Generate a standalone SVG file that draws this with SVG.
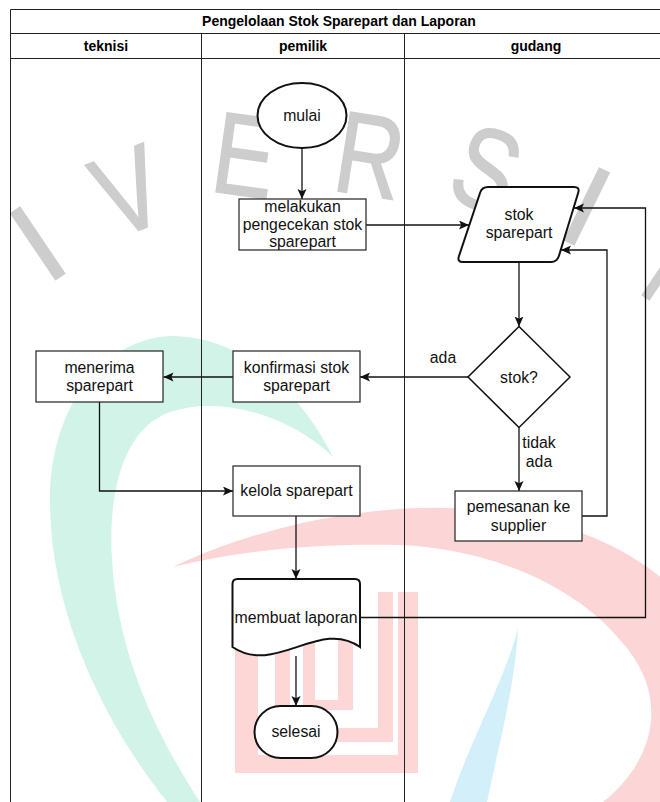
<svg xmlns="http://www.w3.org/2000/svg" width="660" height="802" viewBox="0 0 660 802">
<style>
.lane{fill:none;stroke:#222;stroke-width:1}
.hdr{font-family:"Liberation Sans",Arial,sans-serif;font-weight:bold;font-size:14px;text-anchor:middle;fill:#000}
.box{fill:#fff;stroke:#222;stroke-width:1.2}
.thick{fill:#fff;stroke:#111;stroke-width:2}
.lbl{font-family:"Liberation Sans",Arial,sans-serif;font-size:15.8px;text-anchor:middle;fill:#111}
.conn{fill:none;stroke:#111;stroke-width:1.3}
.wm{font-family:"Liberation Sans",Arial,sans-serif;font-size:116px;fill:#cdcdcd;stroke:#cdcdcd;stroke-width:1.6;text-anchor:middle}
</style>
<defs>
<marker id="arr" markerUnits="userSpaceOnUse" markerWidth="11" markerHeight="10" refX="10" refY="4.5" orient="auto">
<path d="M0,0 L10,4.5 L0,9 L2.2,4.5 Z" fill="#111"/>
</marker>
</defs>
<rect width="660" height="802" fill="#fff"/>
<g id="watermark">
<path d="M167,802 C110,730 50,620 50,500 C50,400 110,335 175,336 C240,337 300,390 333,457 C290,415 220,395 170,412 C120,430 108,500 112,560 C118,660 160,740 200,802 Z" fill="#d2f4e8"/>
<path d="M173,567 C260,525 380,500 480,510 C580,520 660,560 700,620 C740,700 720,760 690,802 L603,802 C650,765 675,700 620,640 C570,580 480,548 400,545 C320,543 240,550 173,567 Z" fill="#fcd6d6"/>
<path d="M518,628 C516,680 500,740 487,802 L450,802 C470,740 505,680 518,628 Z" fill="#d3effa"/>
<path d="M235,592 h23 v163 h140 v-163 h20 v181 h-183 Z" fill="#fdd6d6"/>
<path d="M275,600 h15 v128 h88 v-136 h15 v150 h-118 Z" fill="#fdd6d6"/>
<path d="M303,640 h12 v60 h23 v-60 h15 v70 h-50 Z" fill="#fdd6d6"/>
<g transform="translate(37,242) rotate(-34)"><text class="wm" x="0" y="41.5">I</text></g>
<g transform="translate(128,190) rotate(-21) scale(0.82,1)"><text class="wm" x="0" y="41.5">V</text></g>
<g transform="translate(245,154) rotate(8) scale(0.8,1)"><text class="wm" x="0" y="41.5">E</text></g>
<g transform="translate(370,154) rotate(9) scale(0.8,1)"><text class="wm" x="0" y="41.5">R</text></g>
<g transform="translate(487,168) rotate(20) scale(0.8,1)"><text class="wm" x="0" y="41.5">S</text></g>
<g transform="translate(587.5,205) rotate(26)"><text class="wm" x="0" y="41.5">I</text></g>
<g transform="translate(669,263) rotate(34) scale(0.8,1)"><text class="wm" x="0" y="41.5">T</text></g>
</g>
<g id="pool">
<path class="lane" d="M10.5,802 V9.5 H668 M10.5,33.5 H668 M10.5,58.5 H668 M201.5,33.5 V802 M404.5,33.5 V802"/>
<text class="hdr" x="339" y="26">Pengelolaan Stok Sparepart dan Laporan</text>
<text class="hdr" x="106" y="50.5">teknisi</text>
<text class="hdr" x="303" y="50.5">pemilik</text>
<text class="hdr" x="536" y="50.5">gudang</text>
</g>
<g id="connectors">
<path class="conn" d="M302,148 V199" marker-end="url(#arr)"/>
<path class="conn" d="M366,225 H469" marker-end="url(#arr)"/>
<path class="conn" d="M519,262 V326.5" marker-end="url(#arr)"/>
<path class="conn" d="M468,377 H360" marker-end="url(#arr)"/>
<path class="conn" d="M233,377 H163.5" marker-end="url(#arr)"/>
<path class="conn" d="M99.5,402 V491 H233" marker-end="url(#arr)"/>
<path class="conn" d="M519,427.5 V491" marker-end="url(#arr)"/>
<path class="conn" d="M582,516 H607 V250 H561" marker-end="url(#arr)"/>
<path class="conn" d="M296,516 V579" marker-end="url(#arr)"/>
<path class="conn" d="M360,617.5 H645.5 V208 H574" marker-end="url(#arr)"/>
<path class="conn" d="M296,656 V706" marker-end="url(#arr)"/>
<text class="lbl" x="443" y="362.5">ada</text>
<text class="lbl" x="539" y="448">tidak</text>
<text class="lbl" x="539" y="467">ada</text>
</g>
<g id="mulai">
<ellipse class="thick" cx="302" cy="115.5" rx="44.5" ry="32.5"/>
<text class="lbl" x="302" y="121">mulai</text>
</g>
<g id="pengecekan">
<rect class="box" x="239" y="199" width="127" height="51"/>
<text class="lbl" x="302.5" y="212">melakukan</text>
<text class="lbl" x="302.5" y="229.5">pengecekan stok</text>
<text class="lbl" x="302.5" y="247">sparepart</text>
</g>
<g id="stok-sparepart">
<path class="thick" d="M488,187 L574,187 Q580,187 578.2,192.7 L558.8,256.3 Q557,262 551,262 L463,262 Q457,262 458.9,256.3 L480.1,192.7 Q482,187 488,187 Z"/>
<text class="lbl" x="519" y="220">stok</text>
<text class="lbl" x="519" y="238">sparepart</text>
</g>
<g id="stok-decision">
<path d="M519,326.5 L570,377 L519,427.5 L468,377 Z" fill="#fff" stroke="#111" stroke-width="1.5"/>
<text class="lbl" x="519" y="382.5">stok?</text>
</g>
<g id="konfirmasi">
<rect class="box" x="233" y="351" width="127" height="51"/>
<text class="lbl" x="296.5" y="372.5">konfirmasi stok</text>
<text class="lbl" x="296.5" y="391">sparepart</text>
</g>
<g id="menerima">
<rect class="box" x="36" y="351" width="127" height="51"/>
<text class="lbl" x="99.5" y="372.5">menerima</text>
<text class="lbl" x="99.5" y="391">sparepart</text>
</g>
<g id="kelola">
<rect class="box" x="233" y="466" width="127" height="50"/>
<text class="lbl" x="296.5" y="496">kelola sparepart</text>
</g>
<g id="pemesanan">
<rect class="box" x="455" y="491" width="127" height="50"/>
<text class="lbl" x="518.5" y="511.5">pemesanan ke</text>
<text class="lbl" x="518.5" y="530.5">supplier</text>
</g>
<g id="laporan">
<path class="thick" d="M232.5,647 L232.5,584 Q232.5,579 237.5,579 L355,579 Q360,579 360,584 L360,647 C320,618 275,676 232.5,647 Z"/>
<text class="lbl" x="296" y="622.5">membuat laporan</text>
</g>
<g id="selesai">
<rect class="thick" x="254.5" y="706" width="83" height="52" rx="26" ry="26"/>
<text class="lbl" x="296" y="737">selesai</text>
</g>
</svg>
